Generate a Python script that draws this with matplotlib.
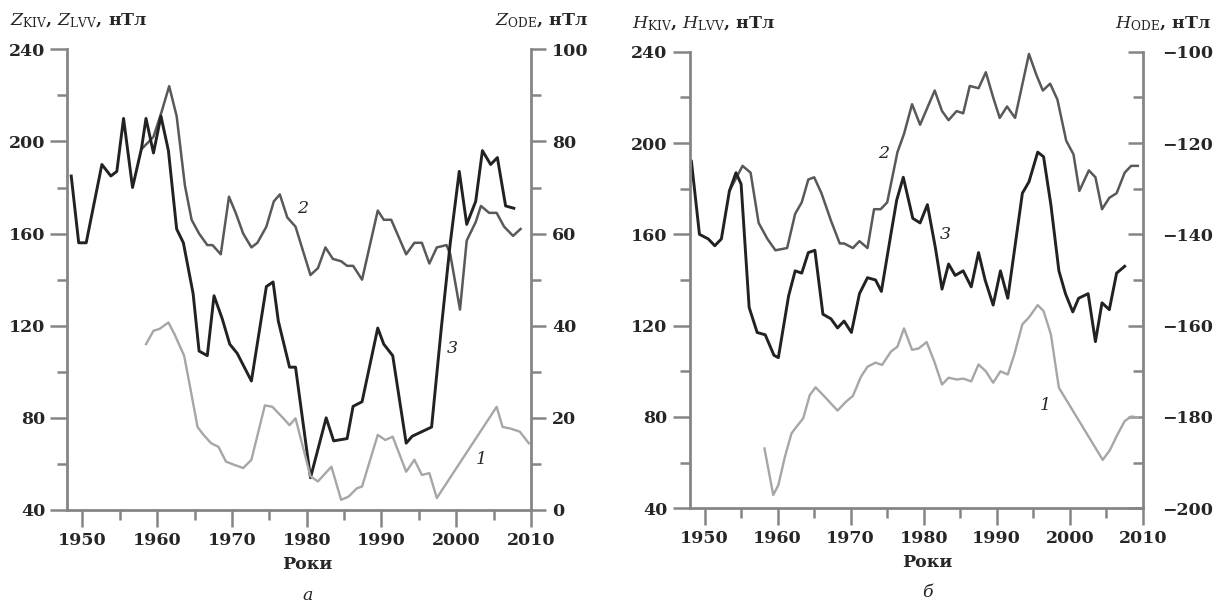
import matplotlib
matplotlib.use('Agg')
import matplotlib.pyplot as plt

plt.rcParams['font.family'] = ['DejaVu Serif']
plt.rcParams['mathtext.fontset'] = 'dejavuserif'

# --- панель а: Z ---
z1_years = [1958.5, 1959.5, 1960.3, 1961.5, 1962.3, 1963.6, 1964.4, 1965.4, 1966.2, 1967.2,
            1968.2, 1969.2, 1970.3, 1971.5, 1972.6, 1974.4, 1975.4, 1976.7, 1977.7, 1978.5,
            1980.5, 1981.5, 1983.3, 1984.6, 1985.6, 1986.7, 1987.4, 1989.5, 1990.5, 1991.5,
            1993.3, 1994.4, 1995.4, 1996.4, 1997.4, 2005.4, 2006.2, 2007.2, 2008.5, 2009.7]
z1_ode = [36, 38.9, 39.3, 40.7, 38.2, 33.5, 26.7, 18, 16.3, 14.5,
          13.7, 10.5, 9.8, 9.1, 10.9, 22.7, 22.4, 20.2, 18.4, 19.9,
          7.3, 6.2, 9.4, 2.2, 2.9, 4.7, 5.1, 16.3, 15.2, 15.9,
          8.3, 10.9, 7.6, 8, 2.6, 22.4, 18, 17.7, 17, 14.5]

z2_years = [1958.0, 1959.5, 1960.6, 1961.6, 1962.6, 1963.7, 1964.6, 1965.6, 1966.7, 1967.4,
            1968.5, 1969.6, 1970.5, 1971.5, 1972.6, 1973.4, 1974.6, 1975.6, 1976.4, 1977.4,
            1978.5, 1980.5, 1981.5, 1982.5, 1983.5, 1984.6, 1985.4, 1986.2, 1987.4, 1989.5,
            1990.3, 1991.3, 1993.3, 1994.4, 1995.4, 1996.4, 1997.4, 1998.7, 1999.2, 2000.5,
            2001.4, 2002.6, 2003.3, 2004.4, 2005.4, 2006.4, 2007.6, 2008.6]
z2_kiv = [197, 202, 213, 224, 211, 181, 166, 160, 155, 155,
          151, 176, 169, 160, 154, 156, 163, 174, 177, 167,
          163, 142, 145, 154, 149, 148, 146, 146, 140, 170,
          166, 166, 151, 156, 156, 147, 154, 155, 151, 127,
          157, 165, 172, 169, 169, 163, 159, 162]

z3_years = [1948.5, 1949.5, 1950.5, 1952.6, 1953.8, 1954.6, 1955.5, 1956.7, 1957.9, 1958.5,
            1959.5, 1960.5, 1961.5, 1962.6, 1963.5, 1964.8, 1965.6, 1966.7, 1967.6, 1968.7,
            1969.7, 1970.7, 1972.6, 1974.6, 1975.5, 1976.2, 1977.7, 1978.5, 1980.5, 1982.6,
            1983.6, 1985.4, 1986.2, 1987.4, 1989.5, 1990.3, 1991.5, 1993.3, 1994.1, 1995.4,
            1996.7, 1998.0, 1999.2, 2000.4, 2001.4, 2002.6, 2003.5, 2004.6, 2005.5, 2006.6,
            2007.7]
z3_lvv = [185, 156, 156, 190, 185, 187, 210, 180, 197, 210,
          195, 211, 196, 162, 156, 134, 109, 107, 133, 123,
          112, 108, 96, 137, 139, 122, 102, 102, 54, 80,
          70, 71, 85, 87, 119, 112, 107, 69, 72, 74,
          76, 119, 156, 187, 164, 174, 196, 190, 193, 172,
          171]

# --- панель б: H ---
h1_years = [1958.2, 1959.4, 1960.1, 1961.0, 1961.9, 1962.6, 1963.5, 1964.4, 1965.2, 1966.4,
            1968.2, 1969.4, 1970.3, 1971.4, 1972.3, 1973.4, 1974.3, 1975.5, 1976.4, 1977.3,
            1978.4, 1979.3, 1980.4, 1981.5, 1982.5, 1983.4, 1984.5, 1985.4, 1986.5, 1987.5,
            1988.5, 1989.5, 1990.5, 1991.5, 1992.4, 1993.5, 1994.4, 1995.6, 1996.4, 1997.4,
            1998.5, 2004.5, 2005.5, 2006.4, 2007.5, 2008.4, 2009.3]
h1_ode = [-186.9, -197.1, -194.9, -188.7, -183.6, -182.1, -180.3, -175.2, -173.5, -175.5,
          -178.6, -176.6, -175.4, -171.2, -169, -168.1, -168.6, -165.7, -164.6, -160.6,
          -165.3, -165, -163.6, -168.1, -172.9, -171.4, -171.8, -171.6, -172.2, -168.5,
          -170, -172.5, -170, -170.7, -166.3, -159.7, -158.2, -155.5, -156.8, -161.9,
          -173.6, -189.4, -187.2, -184.2, -180.9, -179.9, -180.1]

h2_years = [1953.4, 1955.2, 1956.3, 1957.4, 1958.6, 1959.7, 1961.3, 1962.4, 1963.3, 1964.2,
            1965.0, 1966.0, 1967.3, 1968.5, 1969.1, 1970.3, 1971.2, 1972.3, 1973.2, 1974.1,
            1975.0, 1976.4, 1977.3, 1978.4, 1979.5, 1981.5, 1982.5, 1983.4, 1984.5, 1985.4,
            1986.3, 1987.5, 1988.5, 1989.5, 1990.4, 1991.4, 1992.5, 1994.4, 1995.4, 1996.3,
            1997.3, 1998.3, 1999.5, 2000.5, 2001.3, 2002.6, 2003.5, 2004.4, 2005.4, 2006.4,
            2007.5, 2008.4, 2009.3]
h2_kiv = [179, 190, 187, 165, 158, 153, 154, 169, 174, 184,
          185, 178, 166, 156, 156, 154, 157, 154, 171, 171,
          174, 196, 204, 217, 208, 223, 214, 210, 214, 213,
          225, 224, 231, 220, 211, 216, 211, 239, 230, 223,
          226, 219, 201, 195, 179, 188, 185, 171, 176, 178,
          187, 190, 190]

h3_years = [1948.2, 1949.3, 1950.5, 1951.4, 1952.3, 1953.4, 1954.3, 1955.0, 1956.1, 1957.2,
            1958.3, 1959.5, 1960.1, 1961.5, 1962.4, 1963.3, 1964.2, 1965.1, 1966.2, 1967.3,
            1968.2, 1969.1, 1970.1, 1971.2, 1972.3, 1973.4, 1974.2, 1975.5, 1976.3, 1977.2,
            1978.5, 1979.5, 1980.5, 1981.6, 1982.5, 1983.4, 1984.3, 1985.4, 1986.5, 1987.5,
            1988.4, 1989.5, 1990.5, 1991.5, 1993.5, 1994.4, 1995.6, 1996.4, 1997.4, 1998.5,
            1999.4, 2000.4, 2001.2, 2002.5, 2003.5, 2004.4, 2005.4, 2006.4, 2007.5]
h3_lvv = [192, 160, 158, 155, 158, 179, 187, 182, 128, 117,
          116, 107, 106, 133, 144, 143, 152, 153, 125, 123,
          119, 122, 117, 134, 141, 140, 135, 160, 175, 185,
          167, 165, 173, 154, 136, 147, 142, 144, 137, 152,
          140, 129, 144, 132, 178, 183, 196, 194, 173, 144,
          134, 126, 132, 134, 113, 130, 127, 143, 146]

year_ticks = [1950, 1960, 1970, 1980, 1990, 2000, 2010]
left_ticks = [40, 80, 120, 160, 200, 240]

SPINE = '#858585'
TXT = '#262626'
C1, C2, C3 = '#a6a6a6', '#595959', '#222222'
FS = 12.5


def panel(rect, d1, d2, d3, rlim, rticks, rdir, titles, marks, letter, xlab_x):
    ax = fig.add_axes(rect)
    ax2 = ax.twinx()
    ax.plot(d2[0], d2[1], color=C2, lw=1.8)
    ax.plot(d3[0], d3[1], color=C3, lw=2.1)
    ax2.plot(d1[0], d1[1], color=C1, lw=1.7)

    ax.set_xlim(1948, 2010)
    ax.set_ylim(40, 240)
    ax2.set_ylim(*rlim)
    ax.set_xticks(year_ticks)
    ax.set_xticks(range(1955, 2010, 10), minor=True)
    ax.set_yticks(left_ticks)
    ax.set_yticks(range(60, 240, 40), minor=True)
    ax2.set_yticks(rticks)
    step = rticks[1] - rticks[0]
    ax2.set_yticks([t + step / 2 for t in rticks[:-1]], minor=True)

    for a in (ax, ax2):
        for s in a.spines.values():
            s.set_color(SPINE)
            s.set_linewidth(2)
        a.spines['top'].set_visible(False)
    ax.spines['right'].set_visible(False)
    ax2.spines['left'].set_visible(False)
    ax2.spines['bottom'].set_visible(False)

    ax.tick_params(which='major', direction='out', length=12, width=1.8, color=SPINE,
                   labelsize=FS, labelcolor=TXT, pad=4)
    ax.tick_params(which='minor', direction='out', length=7, width=1.8, color=SPINE)
    ax2.tick_params(which='major', direction=rdir, length=11, width=1.8, color=SPINE,
                    labelsize=FS, labelcolor=TXT, pad=4 if rdir == 'out' else 14)
    ax2.tick_params(which='minor', direction=rdir, length=7, width=1.8, color=SPINE)
    for lab in ax.get_xticklabels() + ax.get_yticklabels() + ax2.get_yticklabels():
        lab.set_fontweight('bold')

    ax.set_xlabel('Роки', fontsize=FS, color=TXT, fontweight='bold')
    ax.xaxis.set_label_coords(xlab_x, -0.10)
    ax.text(xlab_x, -0.185, letter, transform=ax.transAxes, ha='center', va='center',
            fontsize=FS, style='italic', color=TXT)

    ax.text(titles[0], 1.062, titles[1], transform=ax.transAxes, ha='left', va='center',
            fontsize=FS, color=TXT, fontweight='bold')
    ax.text(titles[2], 1.062, titles[3], transform=ax.transAxes, ha='right', va='center',
            fontsize=FS, color=TXT, fontweight='bold')

    for x, y, s in marks:
        ax.text(x, y, s, fontsize=FS, style='italic', color=TXT, ha='center', va='center')
    return ax


fig = plt.figure(figsize=(12.16, 6.09), dpi=100)

panel([0.0555, 0.1626, 0.3812, 0.7564],
      (z1_years, z1_ode), (z2_years, z2_kiv), (z3_years, z3_lvv),
      (0, 100), [0, 20, 40, 60, 80, 100], 'out',
      (-0.124, r'$Z_{\mathrm{KIV}}$, $Z_{\mathrm{LVV}}$, нТл', 1.123, r'$Z_{\mathrm{ODE}}$, нТл'),
      [(1979.5, 171, '2'), (1999.5, 110, '3'), (2003.3, 62, '1')],
      'а', 0.517)

panel([0.5674, 0.1654, 0.3725, 0.7497],
      (h1_years, h1_ode), (h2_years, h2_kiv), (h3_years, h3_lvv),
      (-200, -100), [-200, -180, -160, -140, -120, -100], 'in',
      (-0.128, r'$H_{\mathrm{KIV}}$, $H_{\mathrm{LVV}}$, нТл', 1.15, r'$H_{\mathrm{ODE}}$, нТл'),
      [(1974.5, 195.5, '2'), (1983.0, 160, '3'), (1996.6, 85, '1')],
      'б', 0.525)

fig.savefig('out.png', dpi=100)
